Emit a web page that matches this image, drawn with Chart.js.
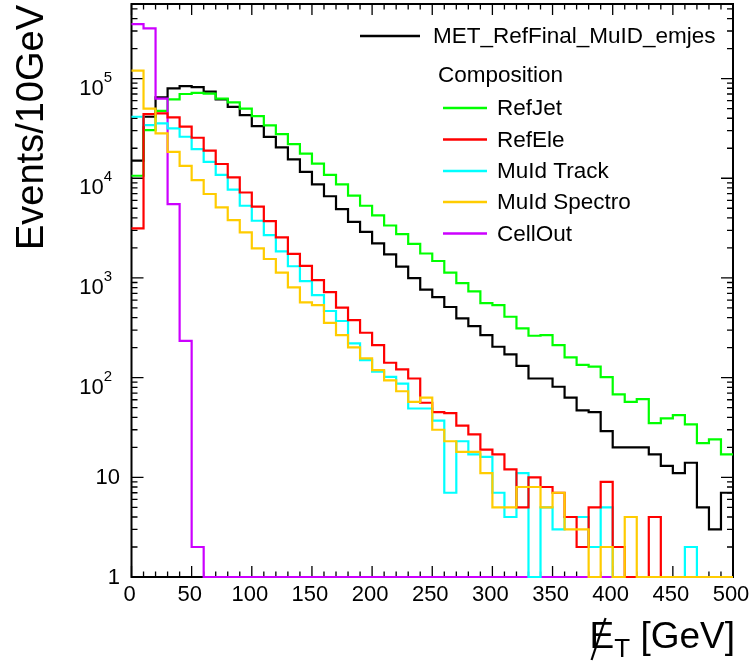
<!DOCTYPE html>
<html><head><meta charset="utf-8">
<script src="https://cdn.jsdelivr.net/npm/chart.js@4.4.0/dist/chart.umd.min.js"></script>
<style>html,body{margin:0;padding:0;background:#fff;}#wrap{width:753px;height:663px;}</style>
</head><body><div id="wrap"><canvas id="c" width="753" height="663"></canvas></div>
<script>
// ---- data (bin width 10 GeV) ----
const binEdges = [0,10,20,30,40,50,60,70,80,90,100,110,120,130,140,150,160,170,180,190,200,210,220,230,240,250,260,270,280,290,300,310,320,330,340,350,360,370,380,390,400,410,420,430,440,450,460,470,480,490,500];
const metTotal = [15000,41400,65000,79800,84000,82000,74000,62000,52000,43000,33400,26000,20400,15500,11600,8700,6600,4900,3660,2900,2220,1720,1300,997,765,643,511,393,329,267,204,171,131,98,98,81,63,47,45,29,20,20,20,17,13,11,14,5,3,7];
const refJet = [10600,30400,47500,62000,70000,72000,70500,63000,57700,50000,42000,34000,27700,22000,17700,14000,10800,8700,6700,5300,4250,3360,2750,2200,1760,1480,1130,889,734,560,535,408,312,263,267,212,160,134,129,101,68,57,61,35,39,42,34,22,24,17];
const refEle = [3140,44000,44800,40800,32900,25500,18900,13900,10200,7200,5200,3720,2550,1740,1320,953,722,505,378,282,212,141,121,98,56,45,44,33,27,19,17,12,5,10,8,7,4,2,5,9,2,0,0,4,0,0,0,0,0,0];
const muIdTrack = [41400,34200,35500,31700,26100,19600,14600,10800,7700,5300,3750,2690,1850,1310,931,674,466,370,221,150,115,102,87,49,49,37,7,23,17,16,7,4,11,0,5,3,4,4,2,5,0,0,0,0,0,0,2,0,0,0];
const muIdSpectro = [120000,50000,28200,18400,13300,9600,6950,5100,3810,2870,1980,1550,1130,805,569,535,355,267,201,156,119,94,73,57,63,30,23,18,18,11,5,5,8,8,5,7,3,3,0,2,0,4,0,0,0,0,0,0,0,0];
const cellOut = [352000,319000,63000,5500,234,2,0,0,0,0,0,0,0,0,0,0,0,0,0,0,0,0,0,0,0,0,0,0,0,0,0,0,0,0,0,0,0,0,0,0,0,0,0,0,0,0,0,0,0,0];

const seriesNames = ['MET_RefFinal_MuID_emjes','RefJet','RefEle','MuId Track','MuId Spectro','CellOut'];
const seriesData = [metTotal, refJet, refEle, muIdTrack, muIdSpectro, cellOut];
const seriesColors = ['#000000','#00ff00','#ff0000','#00ffff','#ffcc00','#cc00ff'];
// drawing order (lower = drawn on top)
const seriesOrder = [5, 4, 1, 2, 0, 3];

const xTickValues = [0,50,100,150,200,250,300,350,400,450,500];
const xTickLabels = ['0','50','100','150','200','250','300','350','400','450','500'];
const yTickValues = [1,10,100,1000,10000,100000];
const yTickBase = ['1','10','10','10','10','10'];
const yTickExp = ['','','2','3','4','5'];
const yMinorMults = [2,3,4,5,6,7,8,9];
const yDecades = [1,10,100,1000,10000,100000];

const yMin = 1, yMax = 5.6e5, xMin = 0, xMax = 500;
const FONT = '"Liberation Sans", Arial, Helvetica, sans-serif';

function histPoints(vals){
  const pts = vals.map((v,i)=>({x: binEdges[i], y: Math.max(v, yMin)}));
  pts.push({x: binEdges[vals.length], y: Math.max(vals[vals.length-1], yMin)});
  return pts;
}

const datasets = seriesData.map((vals,i)=>({
  label: seriesNames[i],
  data: histPoints(vals),
  borderColor: seriesColors[i],
  borderWidth: 2.2,
  stepped: 'before',
  pointRadius: 0,
  fill: false,
  clip: false,
  order: seriesOrder[i]
}));

const rootStyle = {
  id: 'rootStyle',
  beforeDatasetsDraw(chart){
    const {ctx, chartArea: a, scales:{x, y}} = chart;
    ctx.save();
    ctx.strokeStyle = '#000';
    ctx.lineWidth = 2;
    ctx.strokeRect(a.left, a.top, a.right - a.left, a.bottom - a.top);
    ctx.lineWidth = 1.3;
    ctx.beginPath();
    binEdges.forEach(v=>{
      const px = x.getPixelForValue(v);
      const major = xTickValues.includes(v);
      const len = major ? 11 : 5.5;
      ctx.moveTo(px, a.bottom); ctx.lineTo(px, a.bottom - len);
      ctx.moveTo(px, a.top); ctx.lineTo(px, a.top + len);
    });
    yTickValues.forEach(v=>{
      const py = y.getPixelForValue(v);
      ctx.moveTo(a.left, py); ctx.lineTo(a.left + 12, py);
      ctx.moveTo(a.right, py); ctx.lineTo(a.right - 12, py);
    });
    yDecades.forEach(d=>{
      yMinorMults.forEach(m=>{
        const v = d*m;
        if (v > yMax) return;
        const py = y.getPixelForValue(v);
        ctx.moveTo(a.left, py); ctx.lineTo(a.left + 6, py);
        ctx.moveTo(a.right, py); ctx.lineTo(a.right - 6, py);
      });
    });
    ctx.stroke();

    ctx.fillStyle = '#000';
    ctx.font = '22px ' + FONT;
    ctx.textAlign = 'center';
    ctx.textBaseline = 'alphabetic';
    xTickValues.forEach((v,i)=>{
      ctx.fillText(xTickLabels[i], x.getPixelForValue(v) - 2, 601);
    });
    yTickValues.forEach((v,i)=>{
      const py = y.getPixelForValue(v);
      if (!yTickExp[i]) {
        ctx.font = '22px ' + FONT;
        ctx.textAlign = 'right';
        ctx.textBaseline = 'middle';
        ctx.fillText(yTickBase[i], 120, py + 1);
      } else {
        ctx.font = '15px ' + FONT;
        ctx.textAlign = 'right';
        ctx.textBaseline = 'alphabetic';
        const ew = ctx.measureText(yTickExp[i]).width;
        ctx.fillText(yTickExp[i], 112, py + 3);
        ctx.font = '22px ' + FONT;
        ctx.fillText(yTickBase[i], 112 - ew, py + 16);
      }
    });
    ctx.restore();
  },
  afterDraw(chart){
    const {ctx} = chart;
    ctx.save();
    ctx.fillStyle = '#000';
    ctx.save();
    ctx.translate(43, 5);
    ctx.rotate(-Math.PI/2);
    ctx.font = '38px ' + FONT;
    ctx.textAlign = 'right';
    ctx.textBaseline = 'alphabetic';
    ctx.fillText('Events/10GeV', 0, 0);
    ctx.restore();

    ctx.font = '37px ' + FONT;
    ctx.textBaseline = 'alphabetic';
    ctx.textAlign = 'right';
    const base = 648;
    ctx.fillText('[GeV]', 735, base);
    const gw = ctx.measureText('[GeV]').width;
    const sp = ctx.measureText(' ').width;
    ctx.font = '26px ' + FONT;
    const tw = ctx.measureText('T').width;
    const tRight = 735 - gw - sp;
    ctx.fillText('T', tRight, base + 9);
    ctx.font = '37px ' + FONT;
    ctx.fillText('E', tRight - tw, base);
    const ew = ctx.measureText('E').width;
    const eL = tRight - tw - ew;
    ctx.strokeStyle = '#000';
    ctx.lineWidth = 2.2;
    ctx.beginPath();
    ctx.moveTo(eL + 2, base + 12);
    ctx.lineTo(eL + 16, base - 30);
    ctx.stroke();

    ctx.font = '22.5px ' + FONT;
    ctx.textAlign = 'left';
    ctx.textBaseline = 'middle';
    ctx.lineWidth = 2.5;
    ctx.strokeStyle = seriesColors[0];
    ctx.beginPath(); ctx.moveTo(360, 36); ctx.lineTo(420, 36); ctx.stroke();
    ctx.fillText(seriesNames[0], 433, 37);
    ctx.fillText('Composition', 438, 76);
    const ys = [108, 139.5, 171, 202, 233.5];
    for (let i = 1; i < seriesNames.length; i++) {
      const yy = ys[i-1];
      ctx.strokeStyle = seriesColors[i];
      ctx.beginPath(); ctx.moveTo(443, yy); ctx.lineTo(487, yy); ctx.stroke();
      ctx.fillStyle = '#000';
      ctx.fillText(seriesNames[i], 497, yy + 1);
    }
    ctx.restore();
  }
};

new Chart(document.getElementById('c').getContext('2d'), {
  type: 'line',
  data: { datasets },
  options: {
    responsive: false,
    animation: false,
    layout: { padding: { left: 131.5, right: 20, top: 4, bottom: 86 } },
    scales: {
      x: { type: 'linear', min: xMin, max: xMax, display: false },
      y: { type: 'logarithmic', min: yMin, max: yMax, display: false }
    },
    plugins: { legend: { display: false }, tooltip: { enabled: false }, title: { display: false } },
    elements: { line: { tension: 0 } }
  },
  plugins: [rootStyle]
});
</script>
</body></html>
